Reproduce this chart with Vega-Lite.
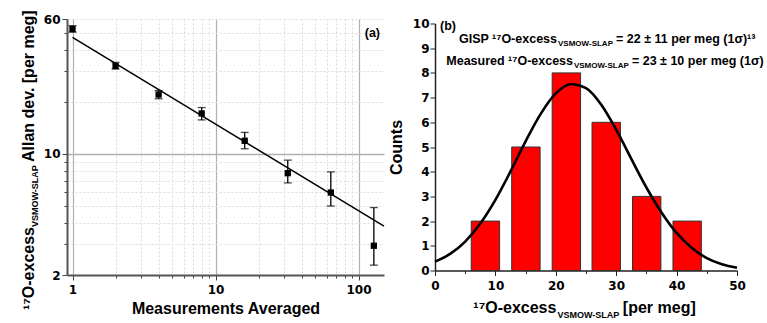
{
  "$schema": "https://vega.github.io/schema/vega-lite/v6.json",
  "background": "white",
  "padding": {"left": 20, "top": 10, "right": 0, "bottom": 0},
  "autosize": {"type": "pad"},
  "bounds": "flush",
  "center": true,
  "spacing": 51,
  "datasets": {
    "allan": [
      {"n": 1, "dev": 52.5, "lo": 50.4, "hi": 54.9},
      {"n": 2, "dev": 32.1, "lo": 30.9, "hi": 33.7},
      {"n": 4, "dev": 22.0, "lo": 20.8, "hi": 23.2},
      {"n": 8, "dev": 17.1, "lo": 15.7, "hi": 18.5},
      {"n": 16, "dev": 11.9, "lo": 10.7, "hi": 13.3},
      {"n": 32, "dev": 7.74, "lo": 6.8, "hi": 9.2},
      {"n": 64, "dev": 5.98, "lo": 5.0, "hi": 7.87},
      {"n": 128, "dev": 2.95, "lo": 2.28, "hi": 4.9}
    ],
    "fit": [
      {"n": 1, "fit": 47},
      {"n": 150.7, "fit": 3.83}
    ],
    "hist": [
      {"start": 6.0, "end": 10.7, "count": 2},
      {"start": 12.7, "end": 17.4, "count": 5},
      {"start": 19.4, "end": 24.1, "count": 8},
      {"start": 26.0, "end": 30.7, "count": 6},
      {"start": 32.7, "end": 37.4, "count": 3},
      {"start": 39.4, "end": 44.1, "count": 2}
    ],
    "gauss": [
      {"v": 0, "c": 0.36}, {"v": 2.5, "c": 0.67}, {"v": 5, "c": 1.17}, {"v": 7.5, "c": 1.9},
      {"v": 10, "c": 2.86}, {"v": 12.5, "c": 4.01}, {"v": 15, "c": 5.23}, {"v": 17.5, "c": 6.34},
      {"v": 20, "c": 7.17}, {"v": 22.5, "c": 7.54}, {"v": 25, "c": 7.38}, {"v": 27.5, "c": 6.72},
      {"v": 30, "c": 5.7}, {"v": 32.5, "c": 4.52}, {"v": 35, "c": 3.36}, {"v": 37.5, "c": 2.35},
      {"v": 40, "c": 1.52}, {"v": 42.5, "c": 0.92}, {"v": 45, "c": 0.5}, {"v": 47.5, "c": 0.25},
      {"v": 50, "c": 0.11}
    ]
  },
  "hconcat": [
    {
      "width": 317,
      "height": 256,
      "layer": [
        {
          "data": {"name": "allan"},
          "mark": {"type": "rule", "color": "black", "strokeWidth": 1.3},
          "encoding": {
            "x": {
              "field": "n", "type": "quantitative",
              "scale": {"type": "log", "domain": [0.915, 150.7], "nice": false},
              "axis": {
                "values": [1, 2, 3, 4, 5, 6, 7, 8, 9, 10, 20, 30, 40, 50, 60, 70, 80, 90, 100],
                "labelExpr": "(datum.value == 1 || datum.value == 10 || datum.value == 100) ? datum.label : ''",
                "labelFlush": false, "labelOverlap": false,
                "grid": true,
                "gridColor": {"condition": {"test": "datum.value == 1 || datum.value == 10 || datum.value == 100", "value": "#b0b0b0"}, "value": "#dcdcdc"},
                "gridDash": {"condition": {"test": "datum.value == 1 || datum.value == 10 || datum.value == 100", "value": []}, "value": [2, 2]},
                "gridWidth": {"condition": {"test": "datum.value == 1 || datum.value == 10 || datum.value == 100", "value": 1.2}, "value": 1},
                "tickSize": {"condition": {"test": "datum.value == 1 || datum.value == 10 || datum.value == 100", "value": 5}, "value": 3},
                "domainColor": "#555555", "domainWidth": 2,
                "labelPadding": 4,
                "title": "Measurements Averaged",
                "titlePadding": 5
              }
            },
            "y": {
              "field": "lo", "type": "quantitative",
              "scale": {"type": "log", "domain": [2, 60], "nice": false},
              "axis": {
                "values": [2, 3, 4, 5, 6, 7, 8, 9, 10, 20, 30, 40, 50, 60],
                "labelExpr": "(datum.value == 2 || datum.value == 10 || datum.value == 60) ? datum.label : ''",
                "labelFlush": false, "labelOverlap": false,
                "grid": true,
                "gridColor": {"condition": {"test": "datum.value == 10", "value": "#b0b0b0"}, "value": "#dcdcdc"},
                "gridDash": {"condition": {"test": "datum.value == 10", "value": []}, "value": [2, 2]},
                "gridWidth": {"condition": {"test": "datum.value == 10", "value": 1.5}, "value": 1},
                "tickSize": {"condition": {"test": "datum.value == 2 || datum.value == 10 || datum.value == 60", "value": 5}, "value": 3},
                "domainColor": "#555555", "domainWidth": 2,
                "labelPadding": 2,
                "title": null
              }
            },
            "y2": {"field": "hi"}
          }
        },
        {
          "data": {"name": "allan"},
          "mark": {"type": "tick", "orient": "horizontal", "size": 8, "thickness": 1.3, "color": "black"},
          "encoding": {
            "x": {"field": "n", "type": "quantitative"},
            "y": {"field": "lo", "type": "quantitative"}
          }
        },
        {
          "data": {"name": "allan"},
          "mark": {"type": "tick", "orient": "horizontal", "size": 8, "thickness": 1.3, "color": "black"},
          "encoding": {
            "x": {"field": "n", "type": "quantitative"},
            "y": {"field": "hi", "type": "quantitative"}
          }
        },
        {
          "data": {"name": "fit"},
          "mark": {"type": "line", "color": "black", "strokeWidth": 1.5},
          "encoding": {
            "x": {"field": "n", "type": "quantitative"},
            "y": {"field": "fit", "type": "quantitative"}
          }
        },
        {
          "data": {"name": "allan"},
          "mark": {"type": "point", "shape": "square", "filled": true, "size": 40, "color": "black", "opacity": 1},
          "encoding": {
            "x": {"field": "n", "type": "quantitative"},
            "y": {"field": "dev", "type": "quantitative"}
          }
        },
        {
          "data": {"values": [{}]},
          "mark": {"type": "text", "text": "(a)", "align": "right", "baseline": "alphabetic", "fontSize": 12.5, "fontWeight": "bold", "font": "Liberation Sans", "color": "black"},
          "encoding": {"x": {"datum": 141.3, "type": "quantitative"}, "y": {"datum": 47.2, "type": "quantitative"}}
        },
        {
          "data": {"values": [{}]},
          "mark": {"type": "text", "text": "¹⁷O-excess", "angle": 270, "align": "right", "baseline": "alphabetic", "fontSize": 16, "fontWeight": "bold", "font": "Liberation Sans", "color": "black"},
          "encoding": {"x": {"datum": 0.5378, "type": "quantitative"}, "y": {"datum": 3.785, "type": "quantitative"}}
        },
        {
          "data": {"values": [{}]},
          "mark": {"type": "text", "text": "VSMOW-SLAP", "angle": 270, "align": "left", "baseline": "alphabetic", "fontSize": 9, "fontWeight": "bold", "font": "Liberation Sans", "color": "black"},
          "encoding": {"x": {"datum": 0.574, "type": "quantitative"}, "y": {"datum": 3.785, "type": "quantitative"}}
        },
        {
          "data": {"values": [{}]},
          "mark": {"type": "text", "text": " Allan dev. [per meg]", "angle": 270, "align": "left", "baseline": "alphabetic", "fontSize": 16, "fontWeight": "bold", "font": "Liberation Sans", "color": "black"},
          "encoding": {"x": {"datum": 0.5378, "type": "quantitative"}, "y": {"datum": 8.97, "type": "quantitative"}}
        }
      ]
    },
    {
      "width": 302,
      "height": 247,
      "resolve": {"axis": {"x": "independent", "y": "independent"}},
      "layer": [
        {
          "data": {"name": "hist"},
          "mark": {"type": "rect", "color": "#ff0000", "stroke": "#333333", "strokeWidth": 1},
          "encoding": {
            "x": {
              "field": "start", "type": "quantitative",
              "scale": {"domain": [0, 50], "nice": false, "zero": false},
              "axis": {
                "orient": "bottom",
                "values": [0, 5, 10, 15, 20, 25, 30, 35, 40, 45, 50],
                "format": "d",
                "labelExpr": "datum.value % 10 == 0 ? datum.label : ''",
                "labelFlush": false, "labelOverlap": false,
                "grid": false,
                "tickSize": {"condition": {"test": "datum.value % 10 == 0", "value": 5}, "value": 3},
                "tickColor": "#222222",
                "domainColor": "#222222", "domainWidth": 1.5,
                "labelPadding": 5,
                "title": null
              }
            },
            "x2": {"field": "end"},
            "y": {
              "field": "count", "type": "quantitative",
              "scale": {"domain": [0, 10], "nice": false, "zero": false},
              "axis": {
                "orient": "left",
                "values": [0, 0.5, 1, 1.5, 2, 2.5, 3, 3.5, 4, 4.5, 5, 5.5, 6, 6.5, 7, 7.5, 8, 8.5, 9, 9.5, 10],
                "format": "d",
                "labelExpr": "datum.value % 1 == 0 ? datum.label : ''",
                "labelFlush": false, "labelOverlap": false,
                "grid": false,
                "tickSize": {"condition": {"test": "datum.value % 1 == 0", "value": 5}, "value": 3},
                "tickColor": "#222222",
                "domainColor": "#222222", "domainWidth": 1.5,
                "labelPadding": 1,
                "title": "Counts",
                "titlePadding": 8
              }
            },
            "y2": {"datum": 0}
          }
        },
        {
          "data": {"name": "gauss"},
          "mark": {"type": "line", "color": "black", "strokeWidth": 2.6, "interpolate": "monotone"},
          "encoding": {
            "x": {"field": "v", "type": "quantitative", "axis": null},
            "y": {"field": "c", "type": "quantitative", "axis": null}
          }
        },
        {
          "data": {"values": [{}]},
          "mark": {"type": "text", "text": "(b)", "align": "left", "baseline": "alphabetic", "fontSize": 12.5, "fontWeight": "bold", "font": "Liberation Sans", "color": "black"},
          "encoding": {"x": {"datum": 0.83, "type": "quantitative", "axis": null}, "y": {"datum": 9.74, "type": "quantitative", "axis": null}}
        },
        {
          "data": {"values": [{}]},
          "mark": {"type": "text", "text": "GISP ¹⁷O-excess", "align": "right", "baseline": "alphabetic", "fontSize": 12.5, "fontWeight": "bold", "font": "Liberation Sans", "color": "black"},
          "encoding": {"x": {"datum": 20.2, "type": "quantitative", "axis": null}, "y": {"datum": 9.21, "type": "quantitative", "axis": null}}
        },
        {
          "data": {"values": [{}]},
          "mark": {"type": "text", "text": "VSMOW-SLAP", "align": "left", "baseline": "alphabetic", "fontSize": 8, "fontWeight": "bold", "font": "Liberation Sans", "color": "black"},
          "encoding": {"x": {"datum": 20.37, "type": "quantitative", "axis": null}, "y": {"datum": 9.08, "type": "quantitative", "axis": null}}
        },
        {
          "data": {"values": [{}]},
          "mark": {"type": "text", "text": " = 22 ± 11 per meg (1σ)¹³", "align": "left", "baseline": "alphabetic", "fontSize": 12.5, "fontWeight": "bold", "font": "Liberation Sans", "color": "black"},
          "encoding": {"x": {"datum": 29.97, "type": "quantitative", "axis": null}, "y": {"datum": 9.21, "type": "quantitative", "axis": null}}
        },
        {
          "data": {"values": [{}]},
          "mark": {"type": "text", "text": "Measured ¹⁷O-excess", "align": "right", "baseline": "alphabetic", "fontSize": 12.5, "fontWeight": "bold", "font": "Liberation Sans", "color": "black"},
          "encoding": {"x": {"datum": 22.85, "type": "quantitative", "axis": null}, "y": {"datum": 8.33, "type": "quantitative", "axis": null}}
        },
        {
          "data": {"values": [{}]},
          "mark": {"type": "text", "text": "VSMOW-SLAP", "align": "left", "baseline": "alphabetic", "fontSize": 8, "fontWeight": "bold", "font": "Liberation Sans", "color": "black"},
          "encoding": {"x": {"datum": 23.0, "type": "quantitative", "axis": null}, "y": {"datum": 8.21, "type": "quantitative", "axis": null}}
        },
        {
          "data": {"values": [{}]},
          "mark": {"type": "text", "text": " = 23 ± 10 per meg (1σ)", "align": "left", "baseline": "alphabetic", "fontSize": 12.5, "fontWeight": "bold", "font": "Liberation Sans", "color": "black"},
          "encoding": {"x": {"datum": 32.6, "type": "quantitative", "axis": null}, "y": {"datum": 8.33, "type": "quantitative", "axis": null}}
        },
        {
          "data": {"values": [{}]},
          "mark": {"type": "text", "text": "¹⁷O-excess", "align": "right", "baseline": "alphabetic", "fontSize": 16, "fontWeight": "bold", "font": "Liberation Sans", "color": "black"},
          "encoding": {"x": {"datum": 20.1, "type": "quantitative", "axis": null}, "y": {"datum": -1.71, "type": "quantitative", "axis": null}}
        },
        {
          "data": {"values": [{}]},
          "mark": {"type": "text", "text": "VSMOW-SLAP", "align": "left", "baseline": "alphabetic", "fontSize": 9, "fontWeight": "bold", "font": "Liberation Sans", "color": "black"},
          "encoding": {"x": {"datum": 20.27, "type": "quantitative", "axis": null}, "y": {"datum": -1.92, "type": "quantitative", "axis": null}}
        },
        {
          "data": {"values": [{}]},
          "mark": {"type": "text", "text": " [per meg]", "align": "left", "baseline": "alphabetic", "fontSize": 16, "fontWeight": "bold", "font": "Liberation Sans", "color": "black"},
          "encoding": {"x": {"datum": 31.1, "type": "quantitative", "axis": null}, "y": {"datum": -1.71, "type": "quantitative", "axis": null}}
        }
      ]
    }
  ],
  "config": {
    "font": "Liberation Sans",
    "view": {"stroke": null},
    "axis": {
      "labelFont": "DejaVu Sans",
      "labelFontWeight": "bold",
      "labelFontSize": 12,
      "labelColor": "black",
      "titleFont": "Liberation Sans",
      "titleFontWeight": "bold",
      "titleFontSize": 16,
      "titleColor": "black",
      "tickColor": "#444444"
    }
  }
}
